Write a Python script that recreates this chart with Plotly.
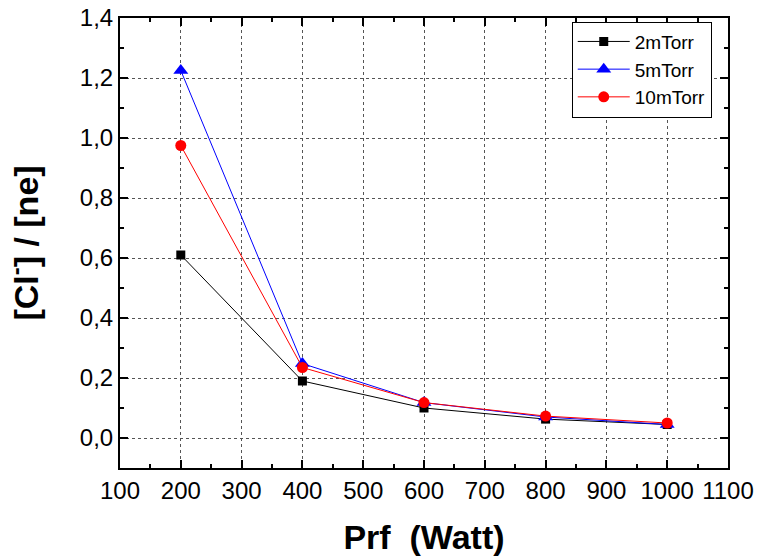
import plotly.graph_objects as go

power = [200, 400, 600, 800, 1000]
s2 = [0.61, 0.19, 0.100, 0.063, 0.045]
s5 = [1.225, 0.248, 0.118, 0.070, 0.045]
s10 = [0.975, 0.235, 0.118, 0.073, 0.050]
names = ["2mTorr", "5mTorr", "10mTorr"]
x_ticks = [100, 200, 300, 400, 500, 600, 700, 800, 900, 1000, 1100]

fig = go.Figure()
fig.add_trace(go.Scatter(x=power, y=s2, name=names[0], mode="lines+markers",
                         line=dict(color="black", width=1),
                         marker=dict(symbol="square", size=9, color="black")))
fig.add_trace(go.Scatter(x=power, y=s5, name=names[1], mode="lines+markers",
                         line=dict(color="blue", width=1),
                         marker=dict(symbol="triangle-up", size=13, color="blue")))
fig.add_trace(go.Scatter(x=power, y=s10, name=names[2], mode="lines+markers",
                         line=dict(color="red", width=1),
                         marker=dict(symbol="circle", size=11, color="red")))

axis_common = dict(
    showline=True, linecolor="black", linewidth=2, mirror="ticks",
    ticks="inside", ticklen=8, tickwidth=2, tickcolor="black",
    showgrid=True, gridcolor="#555555", griddash="dot", gridwidth=1,
    zeroline=False, automargin=False, ticklabeloverflow="allow",
    tickfont=dict(family="Liberation Sans, Arial", size=24, color="black"),
)

fig.update_xaxes(range=[100, 1100], tickvals=x_ticks, ticktext=[str(v) for v in x_ticks],
                 minor=dict(dtick=50, ticklen=4, tickwidth=1.5, tickcolor="black", ticks="inside", showgrid=False),
                 title=dict(text="<b>Prf  (Watt)</b>", standoff=22,
                            font=dict(family="Liberation Sans, Arial", size=34, color="black")),
                 **axis_common)
fig.update_yaxes(range=[-0.1, 1.4], dtick=0.2, tick0=0, tickformat=".1f",
                 minor=dict(dtick=0.1, ticklen=4, tickwidth=1.5, tickcolor="black", ticks="inside", showgrid=False),
                 title=dict(text="<b>[Cl<sup>-</sup>] / [ne]</b>", standoff=31,
                            font=dict(family="Liberation Sans, Arial", size=34, color="black")),
                 **axis_common)

fig.update_layout(
    width=763, height=560,
    margin=dict(l=120, r=35, t=18, b=92),
    paper_bgcolor="white", plot_bgcolor="white",
    separators=",.",
    font=dict(family="Liberation Sans, Arial", color="black"),
    legend=dict(x=0.743, y=0.992, xanchor="left", yanchor="top",
                bgcolor="white", bordercolor="black", borderwidth=1,
                font=dict(family="Liberation Sans, Arial", size=19, color="black"),
                itemwidth=52, tracegroupgap=0),
    showlegend=True,
)

fig.write_html("out.html",
               config={"displayModeBar": False},
               post_script="document.body.style.margin='0';document.body.style.overflow='hidden';")
